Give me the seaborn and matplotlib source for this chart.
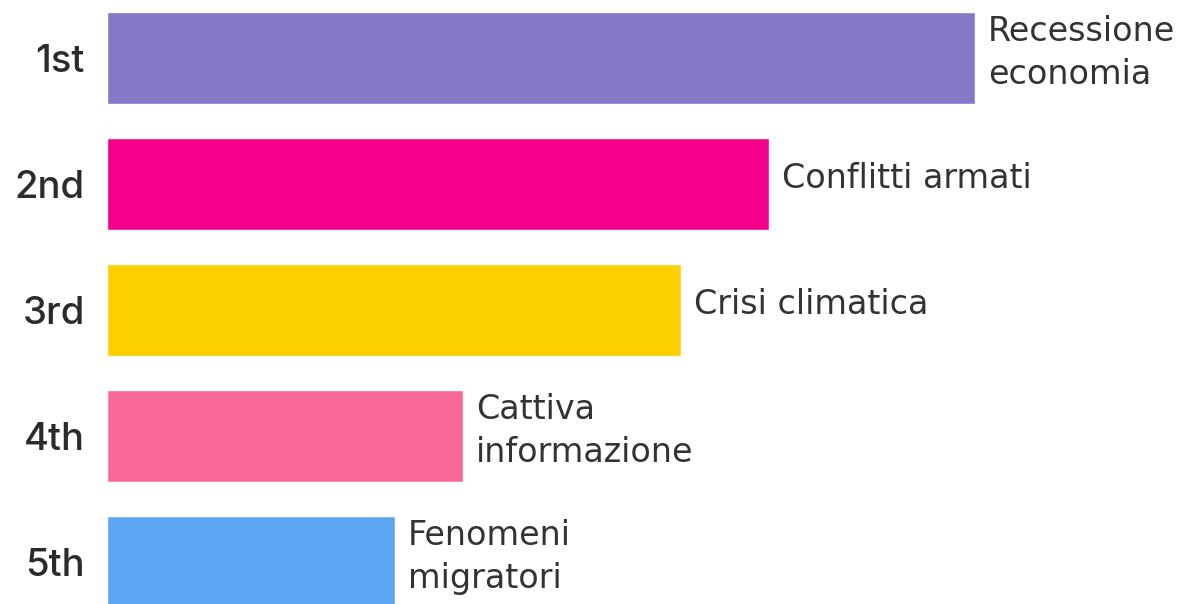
import seaborn as sns
import matplotlib.pyplot as plt
import pandas as pd

# ranking of perceived risks (bar length relative to the first = 100)
ranks = ["1st", "2nd", "3rd", "4th", "5th"]
topics = ["Recessione\neconomia", "Conflitti armati", "Crisi climatica",
          "Cattiva\ninformazione", "Fenomeni\nmigratori"]
scores = [100, 76.3, 66.1, 41.0, 33.2]
colors = ["#8677C8", "#F5008B", "#FCD000", "#F8699A", "#5CA4F4"]

df = pd.DataFrame({"rank": ranks, "score": scores, "topic": topics})

sns.set_style("white")
plt.rcParams["font.family"] = ["DejaVu Sans"]

fig = plt.figure(figsize=(12.01, 6.04), dpi=100)
ax = fig.add_axes([107 / 1201, 0, 1 - 107 / 1201, 1])

sns.barplot(data=df, y="rank", x="score", hue="rank", palette=colors,
            orient="h", width=0.73, saturation=1, legend=False, ax=ax)

ax.set_xlim(0, 100 * 1094 / 868)
ax.set_ylim(4.333, -0.460)

for i, (s, t) in enumerate(zip(scores, topics)):
    ax.text(s + 1.5, i - 0.04, t, va="center", ha="left", fontsize=24,
            color="#333333", linespacing=1.38)

ax.set_xlabel("")
ax.set_ylabel("")
ax.set_xticks([])
ax.tick_params(axis="y", length=0, pad=16)
for lbl in ax.get_yticklabels():
    lbl.set_fontsize(27.5)
    lbl.set_fontweight("medium")
    lbl.set_color("#2b2b2b")
    lbl.set_family(["Inter", "DejaVu Sans"])
sns.despine(left=True, bottom=True)

fig.savefig("out.png", dpi=100)
